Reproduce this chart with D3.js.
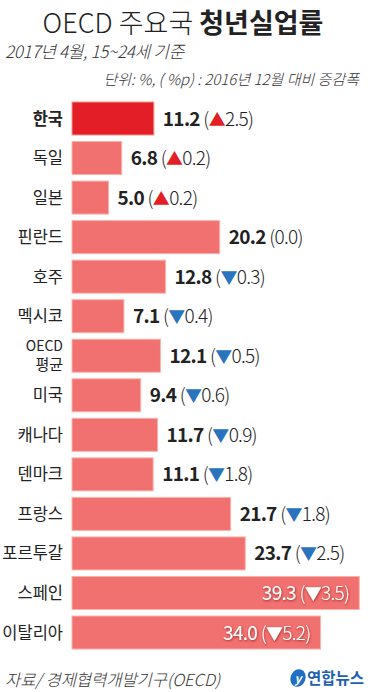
<!DOCTYPE html>
<html><head><meta charset="utf-8">
<script src="https://cdn.jsdelivr.net/npm/d3@7"></script>
<style>
html,body{margin:0;padding:0;background:#fff;}
svg{display:block;}
text{font-family:"Noto Sans CJK KR","Noto Sans",sans-serif;}
</style></head>
<body>
<svg id="c" width="370" height="692"></svg>
<script>
const categories = ["한국","독일","일본","핀란드","호주","멕시코","OECD 평균","미국","캐나다","덴마크","프랑스","포르투갈","스페인","이탈리아"];
const rates = [11.2,6.8,5.0,20.2,12.8,7.1,12.1,9.4,11.7,11.1,21.7,23.7,39.3,34.0];
const changes = [2.5,0.2,0.2,0.0,-0.3,-0.4,-0.5,-0.6,-0.9,-1.8,-1.8,-2.5,-3.5,-5.2];
const highlight = "한국";
const insideLabels = ["스페인","이탈리아"];

const data = categories.map((c,i)=>({cat:c, v:rates[i], d:changes[i]}));
const svg = d3.select("#c");

const defs = svg.append("defs");
const f = defs.append("filter").attr("id","sh").attr("x","-10%").attr("y","-30%").attr("width","120%").attr("height","160%");
f.append("feDropShadow").attr("dx",0.5).attr("dy",1).attr("stdDeviation",1.2).attr("flood-color","#7a1010").attr("flood-opacity",0.7);

// title
const t = svg.append("text").attr("x",183).attr("y",33).attr("text-anchor","middle").attr("font-size",27).attr("fill","#222");
t.append("tspan").attr("font-weight",300).text("OECD 주요국 ");
t.append("tspan").attr("font-weight",700).text("청년실업률");

svg.append("text").attr("x",5).attr("y",58).attr("font-size",17).attr("font-style","italic").attr("font-weight",300).attr("fill","#333").attr("letter-spacing",-0.3).text("2017년 4월, 15~24세 기준");
svg.append("text").attr("x",359).attr("y",85).attr("text-anchor","end").attr("font-size",15).attr("font-style","italic").attr("font-weight",300).attr("fill","#333").text("단위: %, ( %p) : 2016년 12월 대비 증감폭");

const x = d3.scaleLinear().domain([0,40]).range([72,364.4]);
const y = d3.scaleBand().domain(categories).range([98.73,652.3]).paddingInner(0.165).paddingOuter(0.0825);

const g = svg.append("g");
g.selectAll("rect").data(data).join("rect")
  .attr("x",x(0)).attr("y",d=>y(d.cat))
  .attr("width",d=>x(d.v)-x(0)).attr("height",y.bandwidth())
  .attr("fill",d=>d.cat===highlight?"#e31e27":"#f07170")
  .attr("stroke",d=>d.cat===highlight?"#f29a8a":"#f9b3ab").attr("stroke-width",1);

// category labels
data.forEach(d=>{
  const cy = y(d.cat)+y.bandwidth()/2;
  if(d.cat.includes(" ")){
    const parts=d.cat.split(" ");
    g.append("text").attr("x",63).attr("y",cy-5).attr("text-anchor","end").attr("font-size",14).attr("fill","#222").text(parts[0]);
    g.append("text").attr("x",63).attr("y",cy+14.5).attr("text-anchor","end").attr("font-size",15).attr("fill","#222").text(parts[1]);
  } else {
    g.append("text").attr("x",63).attr("y",cy+6).attr("text-anchor","end").attr("font-size",16.5)
      .attr("fill","#222").attr("font-weight",d.cat===highlight?700:400).text(d.cat);
  }
});

// value labels
data.forEach(d=>{
  const cy = y(d.cat)+y.bandwidth()/2;
  const inside = insideLabels.includes(d.cat);
  const tx = g.append("text").attr("y",cy+7).attr("font-size",19).attr("letter-spacing",-0.7)
    .attr("fill",inside?"#fff":"#222");
  if(inside){ tx.attr("x",x(d.v)-10).attr("text-anchor","end").attr("filter","url(#sh)"); }
  else { tx.attr("x",x(d.v)+9); }
  tx.append("tspan").attr("font-weight",inside?400:700).text(d3.format(".1f")(d.v));
  tx.append("tspan").attr("font-weight",300).text(" (");
  if(d.d!==0){
    tx.append("tspan").attr("font-size",17).attr("fill",inside?"#fff":(d.d>0?"#e31e27":"#2a74bd")).text(d.d>0?"▲":"▼");
  }
  tx.append("tspan").attr("font-weight",300).text(d3.format(".1f")(Math.abs(d.d))+")");
});

// footer
svg.append("text").attr("x",5).attr("y",686).attr("font-size",16.5).attr("font-style","italic").attr("font-weight",300).attr("fill","#333").text("자료/ 경제협력개발기구(OECD)");
const lg = svg.append("g");
lg.append("ellipse").attr("cx",298).attr("cy",678).attr("rx",7.5).attr("ry",9).attr("fill","#1f6fc4").attr("transform","rotate(20,298,678)");
lg.append("text").attr("x",298).attr("y",683).attr("text-anchor","middle").attr("font-size",12).attr("font-style","italic").attr("font-weight",700).attr("fill","#fff").text("y");
lg.append("text").attr("x",307).attr("y",684).attr("font-size",15.5).attr("font-weight",700).attr("fill","#1f5fb0").text("연합뉴스");
</script>
</body></html>
